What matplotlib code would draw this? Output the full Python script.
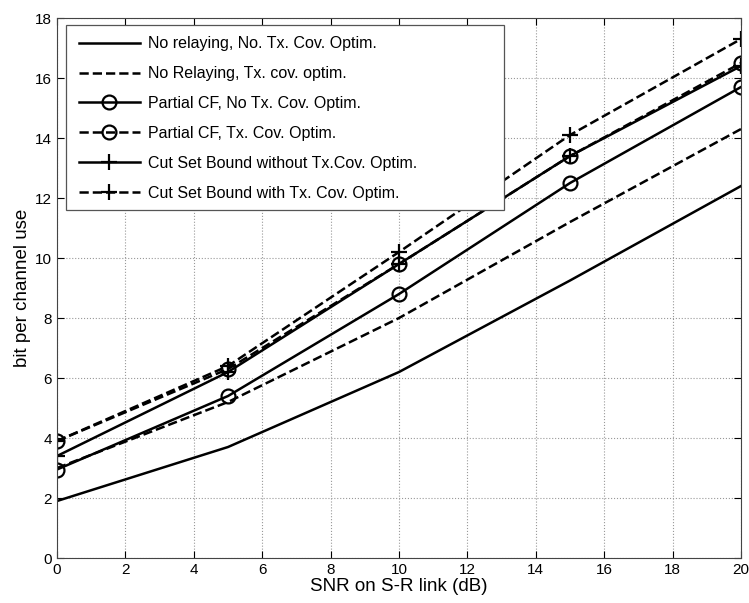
import matplotlib
matplotlib.use("Agg")
import matplotlib.pyplot as plt
from matplotlib.patches import Rectangle

snr = [0, 5, 10, 15, 20]

no_relay_no_opt = [1.9, 3.7, 6.2, 9.25, 12.4]
no_relay_opt = [3.0, 5.2, 8.0, 11.2, 14.3]
pcf_no_opt = [2.95, 5.4, 8.8, 12.5, 15.7]
pcf_opt = [3.9, 6.3, 9.8, 13.4, 16.5]
cutset_no_opt = [3.4, 6.2, 9.8, 13.4, 16.4]
cutset_opt = [3.9, 6.4, 10.2, 14.1, 17.3]

labels = ["No relaying, No. Tx. Cov. Optim.",
          "No Relaying, Tx. cov. optim.",
          "Partial CF, No Tx. Cov. Optim.",
          "Partial CF, Tx. Cov. Optim.",
          "Cut Set Bound without Tx.Cov. Optim.",
          "Cut Set Bound with Tx. Cov. Optim."]

plt.rcParams['font.family'] = ['Liberation Sans', 'DejaVu Sans']

fig = plt.figure(figsize=(7.49, 6.03), dpi=100)
ax = fig.add_axes([0.0761, 0.0746, 0.9132, 0.8955])

lw = 1.8
ms = 10
ax.plot(snr, no_relay_no_opt, 'k-', lw=lw, label=labels[0])
ax.plot(snr, no_relay_opt, 'k--', lw=lw, label=labels[1])
ax.plot(snr, pcf_no_opt, 'k-', lw=lw, marker='o', ms=ms, mfc='none', mew=1.6, label=labels[2])
ax.plot(snr, pcf_opt, 'k--', lw=lw, marker='o', ms=ms, mfc='none', mew=1.6, label=labels[3])
ax.plot(snr, cutset_no_opt, 'k-', lw=lw, marker='+', ms=ms + 2, mew=1.6, label=labels[4])
ax.plot(snr, cutset_opt, 'k--', lw=lw, marker='+', ms=ms + 2, mew=1.6, label=labels[5])

ax.set_xlim(0, 20)
ax.set_ylim(0, 18)
ax.set_xticks(range(0, 21, 2))
ax.set_yticks(range(0, 19, 2))
ax.tick_params(direction='in', top=True, right=True, labelsize=11, length=5)
ax.grid(True, linestyle=':', color='#999999', linewidth=0.8)
for s in ax.spines.values():
    s.set_color('#444444')

ax.set_xlabel("SNR on S-R link (dB)", fontsize=13.5, labelpad=1)
ax.set_ylabel("bit per channel use", fontsize=13.5, labelpad=3)

# matlab-style legend box, wider than its contents
box = Rectangle((0.013, 0.645), 0.6405, 0.3426, transform=ax.transAxes,
                facecolor='white', edgecolor='#555555', linewidth=0.9, zorder=4)
ax.add_patch(box)

leg = ax.legend(loc='upper left', bbox_to_anchor=(0.0193, 0.9824), fontsize=11.5,
                handlelength=3.8, handletextpad=0.55, labelspacing=0.93, numpoints=1,
                frameon=False, borderpad=0.55, borderaxespad=0.0)
leg.set_zorder(5)

fig.savefig("out.png", dpi=100)
